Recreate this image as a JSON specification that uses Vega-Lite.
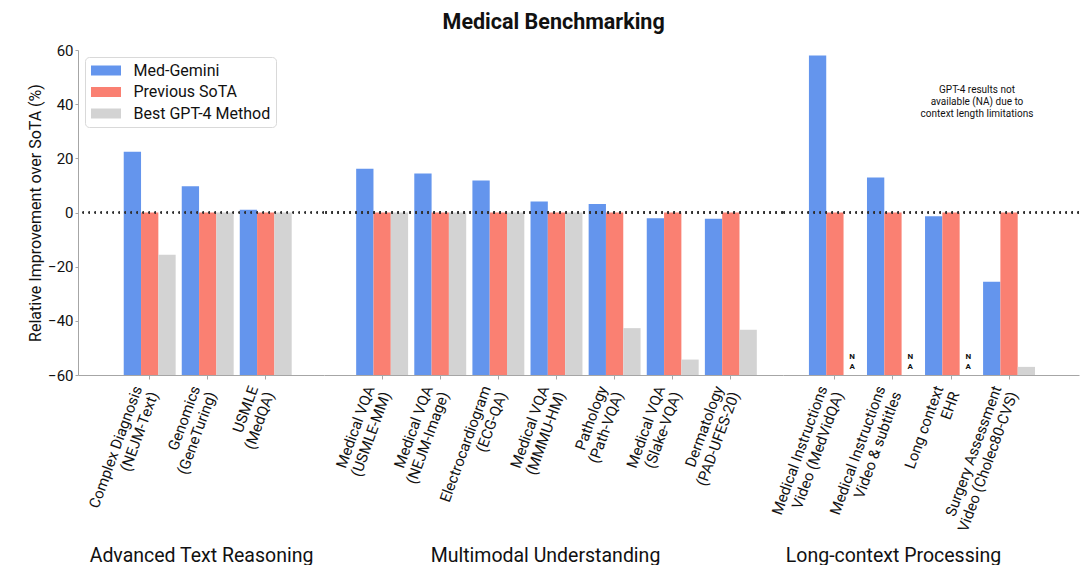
{
  "$schema": "https://vega.github.io/schema/vega-lite/v6.json",
  "padding": {"left": 27, "top": 11, "right": 0, "bottom": 0},
  "background": "white",
  "bounds": "flush",
  "title": {"text": "Medical Benchmarking", "fontSize": 21.5, "fontWeight": "bold", "font": "Roboto", "color": "#111", "anchor": "middle", "offset": 10},
  "datasets": {
    "bench": [
      {"task": "Complex Diagnosis\n(NEJM-Text)", "group": "Advanced Text Reasoning", "series": "Med-Gemini", "value": 22.4},
      {"task": "Complex Diagnosis\n(NEJM-Text)", "group": "Advanced Text Reasoning", "series": "Previous SoTA", "value": 0},
      {"task": "Complex Diagnosis\n(NEJM-Text)", "group": "Advanced Text Reasoning", "series": "Best GPT-4 Method", "value": -15.6},
      {"task": "Genomics\n(GeneTuring)", "group": "Advanced Text Reasoning", "series": "Med-Gemini", "value": 9.7},
      {"task": "Genomics\n(GeneTuring)", "group": "Advanced Text Reasoning", "series": "Previous SoTA", "value": 0},
      {"task": "Genomics\n(GeneTuring)", "group": "Advanced Text Reasoning", "series": "Best GPT-4 Method", "value": 0},
      {"task": "USMLE\n(MedQA)", "group": "Advanced Text Reasoning", "series": "Med-Gemini", "value": 1.0},
      {"task": "USMLE\n(MedQA)", "group": "Advanced Text Reasoning", "series": "Previous SoTA", "value": 0},
      {"task": "USMLE\n(MedQA)", "group": "Advanced Text Reasoning", "series": "Best GPT-4 Method", "value": 0},
      {"task": "Medical VQA\n(USMLE-MM)", "group": "Multimodal Understanding", "series": "Med-Gemini", "value": 16.2},
      {"task": "Medical VQA\n(USMLE-MM)", "group": "Multimodal Understanding", "series": "Previous SoTA", "value": 0},
      {"task": "Medical VQA\n(USMLE-MM)", "group": "Multimodal Understanding", "series": "Best GPT-4 Method", "value": 0},
      {"task": "Medical VQA\n(NEJM-Image)", "group": "Multimodal Understanding", "series": "Med-Gemini", "value": 14.4},
      {"task": "Medical VQA\n(NEJM-Image)", "group": "Multimodal Understanding", "series": "Previous SoTA", "value": 0},
      {"task": "Medical VQA\n(NEJM-Image)", "group": "Multimodal Understanding", "series": "Best GPT-4 Method", "value": 0},
      {"task": "Electrocardiogram\n(ECG-QA)", "group": "Multimodal Understanding", "series": "Med-Gemini", "value": 11.8},
      {"task": "Electrocardiogram\n(ECG-QA)", "group": "Multimodal Understanding", "series": "Previous SoTA", "value": 0},
      {"task": "Electrocardiogram\n(ECG-QA)", "group": "Multimodal Understanding", "series": "Best GPT-4 Method", "value": 0},
      {"task": "Medical VQA\n(MMMU-HM)", "group": "Multimodal Understanding", "series": "Med-Gemini", "value": 4.1},
      {"task": "Medical VQA\n(MMMU-HM)", "group": "Multimodal Understanding", "series": "Previous SoTA", "value": 0},
      {"task": "Medical VQA\n(MMMU-HM)", "group": "Multimodal Understanding", "series": "Best GPT-4 Method", "value": 0},
      {"task": "Pathology\n(Path-VQA)", "group": "Multimodal Understanding", "series": "Med-Gemini", "value": 3.1},
      {"task": "Pathology\n(Path-VQA)", "group": "Multimodal Understanding", "series": "Previous SoTA", "value": 0},
      {"task": "Pathology\n(Path-VQA)", "group": "Multimodal Understanding", "series": "Best GPT-4 Method", "value": -42.7},
      {"task": "Medical VQA\n(Slake-VQA)", "group": "Multimodal Understanding", "series": "Med-Gemini", "value": -2.1},
      {"task": "Medical VQA\n(Slake-VQA)", "group": "Multimodal Understanding", "series": "Previous SoTA", "value": 0},
      {"task": "Medical VQA\n(Slake-VQA)", "group": "Multimodal Understanding", "series": "Best GPT-4 Method", "value": -54.3},
      {"task": "Dermatology\n(PAD-UFES-20)", "group": "Multimodal Understanding", "series": "Med-Gemini", "value": -2.3},
      {"task": "Dermatology\n(PAD-UFES-20)", "group": "Multimodal Understanding", "series": "Previous SoTA", "value": 0},
      {"task": "Dermatology\n(PAD-UFES-20)", "group": "Multimodal Understanding", "series": "Best GPT-4 Method", "value": -43.3},
      {"task": "Medical Instructions\nVideo (MedVidQA)", "group": "Long-context Processing", "series": "Med-Gemini", "value": 58.0},
      {"task": "Medical Instructions\nVideo (MedVidQA)", "group": "Long-context Processing", "series": "Previous SoTA", "value": 0},
      {"task": "Medical Instructions\nVideo (MedVidQA)", "group": "Long-context Processing", "series": "Best GPT-4 Method", "value": null, "note": "N\nA"},
      {"task": "Medical Instructions\nVideo & subtitles", "group": "Long-context Processing", "series": "Med-Gemini", "value": 12.9},
      {"task": "Medical Instructions\nVideo & subtitles", "group": "Long-context Processing", "series": "Previous SoTA", "value": 0},
      {"task": "Medical Instructions\nVideo & subtitles", "group": "Long-context Processing", "series": "Best GPT-4 Method", "value": null, "note": "N\nA"},
      {"task": "Long context\nEHR", "group": "Long-context Processing", "series": "Med-Gemini", "value": -1.4},
      {"task": "Long context\nEHR", "group": "Long-context Processing", "series": "Previous SoTA", "value": 0},
      {"task": "Long context\nEHR", "group": "Long-context Processing", "series": "Best GPT-4 Method", "value": null, "note": "N\nA"},
      {"task": "Surgery Assessment\nVideo (Cholec80-CVS)", "group": "Long-context Processing", "series": "Med-Gemini", "value": -25.6},
      {"task": "Surgery Assessment\nVideo (Cholec80-CVS)", "group": "Long-context Processing", "series": "Previous SoTA", "value": 0},
      {"task": "Surgery Assessment\nVideo (Cholec80-CVS)", "group": "Long-context Processing", "series": "Best GPT-4 Method", "value": -57.0},
      {"task": "Long context\nEHR", "group": "Long-context Processing", "annotation": "GPT-4 results not\navailable (NA)  due to\ncontext length limitations"}
    ]
  },
  "spacing": 0,
  "resolve": {"scale": {"color": "independent"}},
  "hconcat": [
    {
      "width": 246,
      "height": 325,
      "data": {"name": "bench"},
      "transform": [{"filter": "datum.group === 'Advanced Text Reasoning'"}],
      "layer": [
        {
          "transform": [{"filter": "isValid(datum.value)"}],
          "mark": {"type": "bar"},
          "encoding": {
            "x": {
              "field": "task", "type": "nominal",
              "scale": {"domain": ["Complex Diagnosis\n(NEJM-Text)", "Genomics\n(GeneTuring)", "USMLE\n(MedQA)"], "paddingInner": 0.105, "paddingOuter": 0.6725, "align": 0.586},
              "axis": {"title": "Advanced Text Reasoning", "labelAngle": -70, "labelAlign": "right", "labelBaseline": "middle", "labelExpr": "split(datum.label, '\\n')", "labelFontSize": 15, "labelLineHeight": 17, "labelPadding": 7, "labelOffset": -12, "labelLimit": 400, "tickSize": 4, "titleFontSize": 19.5, "titleFontWeight": "normal", "titleY": 186, "titleBaseline": "alphabetic"}
            },
            "xOffset": {"field": "series", "type": "nominal", "scale": {"domain": ["Med-Gemini", "Previous SoTA", "Best GPT-4 Method"], "paddingInner": 0, "paddingOuter": 0}},
            "y": {
              "field": "value", "type": "quantitative",
              "scale": {"domain": [-60, 60], "nice": false, "zero": false},
              "axis": {"title": "Relative Improvement over SoTA (%)", "values": [-60, -40, -20, 0, 20, 40, 60], "tickSize": 3, "labelPadding": 2, "labelFontSize": 15, "titleFontSize": 16, "titleFontWeight": "normal", "titlePadding": 4}
            },
            "y2": {"datum": -60},
            "color": {
              "field": "series", "type": "nominal",
              "scale": {"domain": ["Med-Gemini", "Previous SoTA", "Best GPT-4 Method"], "range": ["#6495ED", "#FA8072", "#D3D3D3"]},
              "legend": {"title": null, "orient": "top-left", "offset": 7, "symbolType": "M-1,-0.667H3V0.667H-1Z", "symbolSize": 225, "symbolStrokeWidth": 0, "labelFontSize": 16, "labelOffset": 27, "rowPadding": 5.5, "padding": 5.5, "strokeColor": "#d9d9d9", "fillColor": "white", "cornerRadius": 4, "labelColor": "#111", "labelLimit": 300}
            }
          }
        },
        {
          "mark": {"type": "rule", "strokeDash": [1.3, 4.7], "strokeWidth": 1.4, "color": "#333"},
          "encoding": {"y": {"datum": 0, "type": "quantitative"}}
        }
      ]
    },
    {
      "width": 459,
      "height": 325,
      "data": {"name": "bench"},
      "transform": [{"filter": "datum.group === 'Multimodal Understanding'"}],
      "layer": [
        {
          "transform": [{"filter": "isValid(datum.value)"}],
          "mark": {"type": "bar"},
          "encoding": {
            "x": {
              "field": "task", "type": "nominal",
              "scale": {"domain": ["Medical VQA\n(USMLE-MM)", "Medical VQA\n(NEJM-Image)", "Electrocardiogram\n(ECG-QA)", "Medical VQA\n(MMMU-HM)", "Pathology\n(Path-VQA)", "Medical VQA\n(Slake-VQA)", "Dermatology\n(PAD-UFES-20)"], "paddingInner": 0.105, "paddingOuter": 0.5013, "align": 0.552},
              "axis": {"title": "Multimodal Understanding", "labelAngle": -70, "labelAlign": "right", "labelBaseline": "middle", "labelExpr": "split(datum.label, '\\n')", "labelFontSize": 15, "labelLineHeight": 17, "labelPadding": 7, "labelOffset": -12, "labelLimit": 400, "tickSize": 4, "titleFontSize": 19.5, "titleFontWeight": "normal", "titleY": 186, "titleX": 221, "titleBaseline": "alphabetic"}
            },
            "xOffset": {"field": "series", "type": "nominal", "scale": {"domain": ["Med-Gemini", "Previous SoTA", "Best GPT-4 Method"], "paddingInner": 0, "paddingOuter": 0}},
            "y": {
              "field": "value", "type": "quantitative",
              "scale": {"domain": [-60, 60], "nice": false, "zero": false},
              "axis": null
            },
            "y2": {"datum": -60},
            "color": {
              "field": "series", "type": "nominal",
              "scale": {"domain": ["Med-Gemini", "Previous SoTA", "Best GPT-4 Method"], "range": ["#6495ED", "#FA8072", "#D3D3D3"]},
              "legend": null
            }
          }
        },
        {
          "mark": {"type": "rule", "strokeDash": [1.3, 4.7], "strokeWidth": 1.4, "color": "#333"},
          "encoding": {"y": {"datum": 0, "type": "quantitative"}}
        }
      ]
    },
    {
      "width": 296,
      "height": 325,
      "data": {"name": "bench"},
      "transform": [{"filter": "datum.group === 'Long-context Processing'"}],
      "layer": [
        {
          "transform": [{"filter": "isValid(datum.value)"}],
          "mark": {"type": "bar"},
          "encoding": {
            "x": {
              "field": "task", "type": "nominal",
              "scale": {"domain": ["Medical Instructions\nVideo (MedVidQA)", "Medical Instructions\nVideo & subtitles", "Long context\nEHR", "Surgery Assessment\nVideo (Cholec80-CVS)"], "paddingInner": 0.105, "paddingOuter": 0.602, "align": 0.371},
              "axis": {"title": "Long-context Processing", "labelAngle": -70, "labelAlign": "right", "labelBaseline": "middle", "labelExpr": "split(datum.label, '\\n')", "labelFontSize": 15, "labelLineHeight": 17, "labelPadding": 7, "labelOffset": -12, "labelLimit": 400, "tickSize": 4, "titleFontSize": 19.5, "titleFontWeight": "normal", "titleY": 186, "titleX": 110, "titleBaseline": "alphabetic"}
            },
            "xOffset": {"field": "series", "type": "nominal", "scale": {"domain": ["Med-Gemini", "Previous SoTA", "Best GPT-4 Method"], "paddingInner": 0, "paddingOuter": 0}},
            "y": {
              "field": "value", "type": "quantitative",
              "scale": {"domain": [-60, 60], "nice": false, "zero": false},
              "axis": null
            },
            "y2": {"datum": -60},
            "color": {
              "field": "series", "type": "nominal",
              "scale": {"domain": ["Med-Gemini", "Previous SoTA", "Best GPT-4 Method"], "range": ["#6495ED", "#FA8072", "#D3D3D3"]},
              "legend": null
            }
          }
        },
        {
          "transform": [{"filter": "isValid(datum.note)"}],
          "mark": {"type": "text", "fontSize": 8, "fontWeight": "bold", "lineBreak": "\n", "lineHeight": 10, "color": "#111", "baseline": "middle"},
          "encoding": {
            "x": {"field": "task", "type": "nominal"},
            "xOffset": {"field": "series", "type": "nominal"},
            "y": {"datum": -53.5, "type": "quantitative"},
            "text": {"field": "note"}
          }
        },
        {
          "transform": [{"filter": "isValid(datum.annotation)"}],
          "mark": {"type": "text", "fontSize": 10, "lineBreak": "\n", "lineHeight": 12.4, "color": "#111", "baseline": "middle", "align": "center"},
          "encoding": {
            "x": {"field": "task", "type": "nominal", "bandPosition": 1},
            "y": {"datum": 45.4, "type": "quantitative"},
            "text": {"field": "annotation"}
          }
        },
        {
          "mark": {"type": "rule", "strokeDash": [1.3, 4.7], "strokeWidth": 1.4, "color": "#333"},
          "encoding": {"y": {"datum": 0, "type": "quantitative"}}
        }
      ]
    }
  ],
  "config": {
    "font": "Roboto",
    "view": {"stroke": null},
    "axis": {"domainColor": "#a6a6a6", "tickColor": "#a6a6a6", "labelColor": "#111", "titleColor": "#111", "grid": false, "labelFont": "Roboto", "titleFont": "Roboto"},
    "legend": {"labelFont": "Roboto"}
  }
}
